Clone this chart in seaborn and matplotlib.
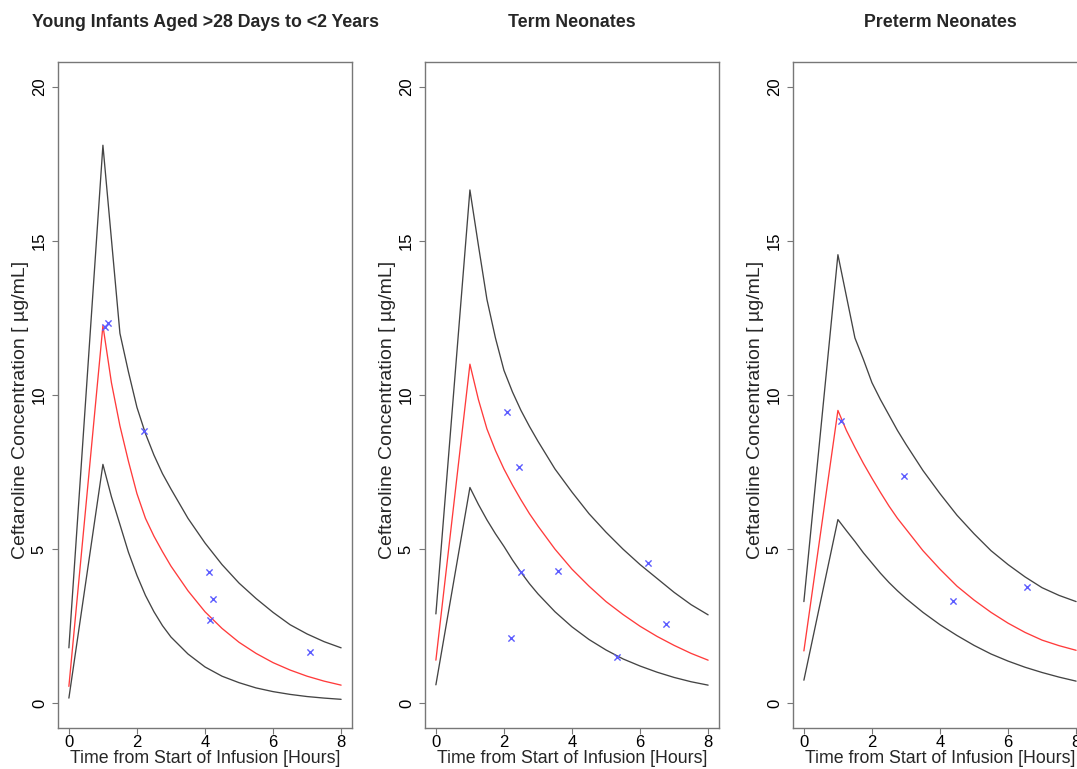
import matplotlib
matplotlib.use("Agg")
import matplotlib.pyplot as plt
import seaborn as sns

TIME_H = [0, 1, 1.25, 1.5, 1.75, 2, 2.25, 2.5, 2.75, 3, 3.5, 4, 4.5, 5, 5.5, 6, 6.5, 7, 7.5, 8]

# Young infants aged >28 days to <2 years
infant_upper = [1.8, 18.1, 15.05, 12.0, 10.75, 9.6, 8.75, 8.05, 7.45, 6.95, 6.0, 5.2, 4.5, 3.9, 3.4, 2.95, 2.55, 2.25, 2.0, 1.8]
infant_median = [0.55, 12.25, 10.4, 9.0, 7.85, 6.8, 6.0, 5.42, 4.92, 4.45, 3.65, 2.97, 2.43, 1.98, 1.62, 1.32, 1.08, 0.88, 0.72, 0.59]
infant_lower = [0.17, 7.75, 6.7, 5.8, 4.9, 4.15, 3.5, 2.97, 2.52, 2.15, 1.6, 1.18, 0.88, 0.67, 0.5, 0.38, 0.29, 0.22, 0.17, 0.13]
infant_obs_t = [1.06, 1.16, 2.21, 4.11, 4.23, 4.16, 7.1]
infant_obs_c = [12.2, 12.33, 8.82, 4.25, 3.38, 2.70, 1.65]

# Term neonates
term_upper = [2.9, 16.65, 14.85, 13.1, 11.85, 10.8, 10.1, 9.5, 8.98, 8.5, 7.6, 6.85, 6.15, 5.55, 5.0, 4.5, 4.05, 3.6, 3.2, 2.87]
term_median = [1.4, 11.0, 9.85, 8.9, 8.2, 7.6, 7.08, 6.6, 6.15, 5.75, 5.0, 4.35, 3.8, 3.3, 2.88, 2.5, 2.17, 1.88, 1.62, 1.40]
term_lower = [0.6, 7.0, 6.45, 5.95, 5.5, 5.09, 4.65, 4.25, 3.88, 3.55, 2.97, 2.48, 2.07, 1.73, 1.44, 1.21, 1.01, 0.84, 0.70, 0.59]
term_obs_t = [2.09, 2.44, 2.49, 3.58, 6.23, 2.22, 5.33, 6.77]
term_obs_c = [9.46, 7.67, 4.27, 4.30, 4.55, 2.13, 1.51, 2.56]

# Preterm neonates
preterm_upper = [3.3, 14.55, 13.2, 11.85, 11.15, 10.4, 9.85, 9.35, 8.85, 8.4, 7.55, 6.8, 6.1, 5.5, 4.95, 4.5, 4.1, 3.75, 3.5, 3.3]
preterm_median = [1.7, 9.5, 8.85, 8.3, 7.78, 7.3, 6.84, 6.4, 6.0, 5.65, 4.95, 4.35, 3.8, 3.35, 2.95, 2.6, 2.3, 2.05, 1.87, 1.72]
preterm_lower = [0.75, 5.96, 5.6, 5.25, 4.88, 4.55, 4.22, 3.92, 3.65, 3.4, 2.95, 2.55, 2.2, 1.88, 1.6, 1.37, 1.17, 1.0, 0.85, 0.72]
preterm_obs_t = [1.08, 2.95, 4.38, 6.55]
preterm_obs_c = [9.16, 7.37, 3.33, 3.77]

TITLES = ["Young Infants Aged >28 Days to <2 Years", "Term Neonates", "Preterm Neonates"]
X_TICKS = [0, 2, 4, 6, 8]
Y_TICKS = [0, 5, 10, 15, 20]
XLABEL = "Time from Start of Infusion [Hours]"
YLABEL = "Ceftaroline Concentration [ \u00b5g/mL]"

panels = [
    (infant_upper, infant_median, infant_lower, infant_obs_t, infant_obs_c),
    (term_upper, term_median, term_lower, term_obs_t, term_obs_c),
    (preterm_upper, preterm_median, preterm_lower, preterm_obs_t, preterm_obs_c),
]

sns.set_style("ticks")
plt.rcParams['font.family'] = ['Liberation Sans', 'DejaVu Sans']

W, H = 1077, 769
fig = plt.figure(figsize=(W / 100, H / 100), dpi=100)

# axes boxes in pixels; the third panel runs past the right edge like the original crop
lefts = [58, 425, 793]
box_top, box_w, box_h = 62, 294, 666

for i, (upper, median, lower, obs_t, obs_c) in enumerate(panels):
    ax = fig.add_axes([lefts[i] / W, (H - box_top - box_h) / H, box_w / W, box_h / H])
    sns.lineplot(x=TIME_H, y=upper, color="#444444", lw=0.95, ax=ax)
    sns.lineplot(x=TIME_H, y=lower, color="#444444", lw=0.95, ax=ax)
    sns.lineplot(x=TIME_H, y=median, color="#ff3b3b", lw=0.95, ax=ax)
    sns.scatterplot(x=obs_t, y=obs_c, marker="x", color="#5c5cff", s=20, linewidth=1.0, ax=ax, zorder=5)

    ax.set_xlim(-0.32, 8.32)
    ax.set_ylim(-0.8, 20.8)
    ax.set_xticks(X_TICKS)
    ax.set_yticks(Y_TICKS)
    ax.set_xticklabels([str(v) for v in X_TICKS])
    ax.set_yticklabels([str(v) for v in Y_TICKS])
    for lab in ax.get_yticklabels():
        lab.set_rotation(90)
        lab.set_va("center")
    for s in ax.spines.values():
        s.set_visible(True)
        s.set_color("#777777")
        s.set_linewidth(1.0)
    ax.tick_params(axis="both", direction="out", length=4, width=0.8, color="#777777",
                   labelsize=12, labelcolor="black", bottom=True, left=True)
    ax.tick_params(axis="x", pad=1)
    ax.tick_params(axis="y", pad=4)
    ax.set_xlabel(XLABEL, fontsize=12.8, labelpad=0)
    ax.set_ylabel(YLABEL, fontsize=14)
    ax.yaxis.set_label_coords(-0.098, 0.4775)
    ax.set_title(TITLES[i], fontsize=12.8, fontweight="bold", pad=25)

fig.savefig("out.png", dpi=100)
